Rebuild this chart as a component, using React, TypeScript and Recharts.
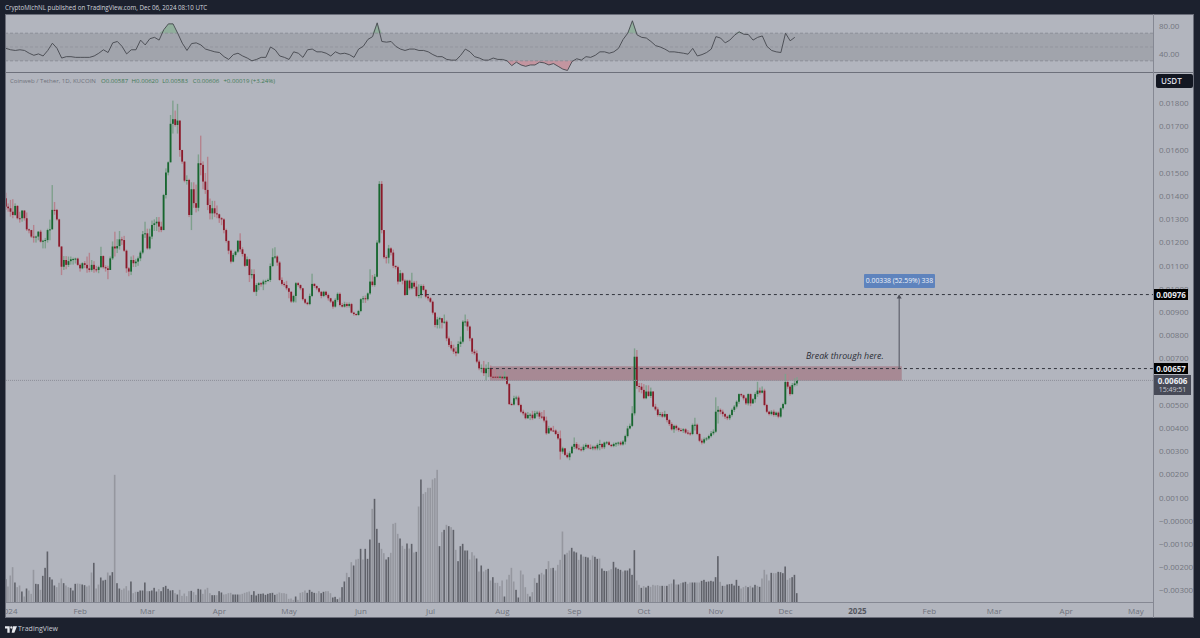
import { ComposedChart, Bar, Line, Area, XAxis, YAxis, ReferenceArea, ReferenceLine, ReferenceDot } from 'recharts';

// prices are in thousandths of USDT, one entry per daily candle starting Dec 31 2023
const closes = [
  13.55, 13.48, 13.33, 13.19, 13.58, 13.05, 13.05, 13.38, 13.05, 12.57,
  12.54, 12.26, 12.23, 12.26, 12.47, 12.04, 12.08, 12.11, 12.54, 12.57,
  13.41, 13.41, 13.0, 11.83, 10.96, 11.25, 11.04, 11.2, 11.28, 11.29,
  11.31, 11.04, 10.89, 11.11, 11.04, 10.89, 10.82, 11.04, 10.85, 10.82,
  10.94, 11.42, 10.94, 10.89, 10.82, 11.32, 11.83, 11.75, 11.85, 12.14,
  12.11, 11.65, 10.89, 10.75, 11.25, 11.11, 11.18, 11.32, 11.57, 12.36,
  12.4, 11.75, 12.26, 12.76, 12.83, 12.9, 12.69, 12.54, 14.05, 15.02,
  15.46, 17.12, 17.32, 17.07, 17.26, 15.99, 15.49, 14.67, 14.7, 13.19,
  14.3, 13.7, 13.5, 15.42, 15.35, 14.63, 14.27, 13.62, 13.26, 13.48,
  13.26, 13.22, 13.05, 13.0, 12.54, 12.07, 11.65, 11.18, 11.47, 11.61,
  12.08, 11.71, 11.51, 11.0, 11.28, 10.6, 10.64, 9.88, 10.17, 10.25,
  10.2, 10.32, 10.35, 10.39, 10.99, 11.37, 11.4, 11.14, 10.39, 10.22,
  10.17, 10.03, 9.88, 9.46, 9.7, 10.25, 10.17, 10.03, 9.56, 9.41,
  9.35, 9.7, 10.22, 10.13, 10.03, 9.88, 9.7, 9.88, 9.74, 9.6,
  9.46, 9.24, 9.53, 9.79, 9.31, 9.24, 9.35, 9.27, 9.35, 8.98,
  8.92, 8.88, 9.05, 9.56, 9.6, 9.56, 9.81, 10.32, 10.17, 10.53,
  12.0, 14.53, 12.54, 11.37, 11.35, 11.75, 11.57, 11.0, 10.94, 10.32,
  10.68, 10.36, 9.74, 10.36, 10.03, 10.27, 10.1, 9.7, 9.74, 10.13,
  9.96, 9.67, 9.6, 9.45, 8.98, 8.45, 8.69, 8.74, 8.55, 8.59,
  7.87, 7.59, 7.44, 7.3, 7.23, 7.63, 7.73, 8.59, 8.6, 8.38,
  7.87, 7.3, 7.23, 6.87, 6.58, 6.6, 6.37, 6.58, 6.6, 6.22,
  6.22, 6.22, 6.19, 6.22, 6.15, 6.22, 5.91, 5.04, 5.02, 5.29,
  5.32, 5.0, 4.71, 4.64, 4.43, 4.57, 4.58, 4.43, 4.64, 4.67,
  4.5, 4.5, 4.33, 3.78, 4.0, 3.9, 3.9, 3.75, 3.56, 2.99,
  3.13, 2.85, 2.75, 2.92, 3.2, 3.32, 3.13, 3.09, 3.06, 3.2,
  3.28, 3.16, 3.13, 3.2, 3.13, 3.28, 3.32, 3.18, 3.38, 3.39,
  3.28, 3.23, 3.32, 3.35, 3.38, 3.3, 3.42, 3.66, 3.99, 4.1,
  4.64, 7.08, 5.82, 5.79, 5.65, 5.29, 5.58, 5.39, 5.58, 4.93,
  4.81, 4.57, 4.61, 4.5, 4.61, 4.35, 4.18, 3.95, 4.1, 4.0,
  3.92, 3.9, 3.95, 3.81, 3.78, 3.75, 4.14, 4.15, 3.75, 3.46,
  3.38, 3.52, 3.56, 3.66, 3.78, 3.85, 4.71, 4.79, 4.71, 4.61,
  4.5, 4.43, 4.57, 4.79, 4.93, 5.14, 5.47, 5.42, 5.29, 5.07,
  5.47, 5.07, 5.25, 5.47, 5.62, 5.53, 5.62, 5.0, 4.71, 4.61,
  4.71, 4.57, 4.67, 4.5, 4.86, 5.04, 5.99, 5.79, 5.47, 5.86,
  5.93, 6.06,
];

const highs = [
  14.15, 13.69, 13.84, 13.87, 13.69, 13.62, 13.33, 13.4, 13.4, 13.3,
  12.6, 12.55, 12.76, 12.3, 12.5, 12.55, 12.12, 12.2, 12.6, 12.99,
  14.48, 13.75, 13.45, 13.03, 11.85, 11.42, 11.42, 11.4, 11.4, 11.35,
  11.35, 11.35, 11.1, 11.15, 11.2, 11.4, 11.56, 11.25, 11.2, 11.0,
  11.0, 11.82, 11.45, 11.02, 11.0, 11.4, 12.05, 12.47, 12.15, 12.5,
  12.25, 12.29, 11.7, 10.95, 11.4, 11.45, 11.3, 11.4, 11.65, 12.5,
  12.9, 12.6, 12.6, 12.95, 13.0, 13.1, 13.1, 12.9, 14.1, 15.2,
  15.5, 17.5, 18.12, 17.69, 17.98, 17.2, 16.0, 15.5, 14.9, 14.75,
  14.6, 14.6, 14.5, 15.8, 16.61, 15.5, 15.0, 15.7, 13.9, 13.8,
  13.8, 13.6, 13.25, 13.1, 13.05, 12.6, 12.1, 11.7, 11.55, 11.65,
  12.1, 12.4, 11.8, 11.55, 11.4, 11.3, 10.85, 10.85, 10.25, 10.3,
  10.3, 10.4, 10.4, 10.45, 11.1, 11.75, 11.8, 11.45, 11.2, 10.5,
  10.3, 10.35, 10.05, 9.9, 9.75, 10.3, 10.3, 10.2, 10.05, 9.6,
  9.45, 9.8, 10.66, 10.25, 10.15, 10.05, 9.9, 9.92, 9.92, 9.8,
  9.62, 9.5, 9.6, 9.85, 9.85, 9.4, 9.45, 9.42, 9.42, 9.4,
  9.02, 8.95, 9.1, 9.6, 9.7, 9.72, 9.85, 10.85, 10.6, 10.65,
  12.1, 14.65, 14.65, 12.45, 11.45, 11.9, 11.8, 11.7, 11.0, 11.0,
  10.82, 10.72, 10.42, 10.4, 10.4, 10.7, 10.35, 10.35, 10.2, 10.2,
  10.2, 10.0, 9.75, 9.65, 9.5, 9.0, 8.8, 8.8, 8.75, 8.9,
  8.65, 7.95, 7.75, 7.6, 7.5, 7.75, 7.95, 8.65, 8.9, 8.7,
  8.42, 7.9, 7.4, 7.35, 6.95, 6.75, 6.9, 6.75, 6.85, 6.7,
  6.6, 6.55, 6.3, 6.28, 6.3, 6.45, 6.25, 5.95, 5.1, 5.4,
  5.4, 5.4, 5.05, 4.8, 4.7, 4.7, 4.65, 4.75, 4.75, 4.75,
  4.75, 4.7, 4.78, 4.5, 4.1, 4.05, 4.1, 3.95, 3.85, 3.9,
  3.2, 3.15, 2.95, 3.0, 3.25, 3.6, 3.4, 3.3, 3.2, 3.3,
  3.35, 3.3, 3.3, 3.25, 3.25, 3.35, 3.5, 3.35, 3.42, 3.45,
  3.45, 3.32, 3.38, 3.4, 3.42, 3.45, 3.48, 3.72, 4.1, 4.2,
  4.95, 7.44, 7.37, 5.95, 5.95, 5.9, 5.85, 5.85, 5.75, 5.6,
  5.05, 4.9, 4.7, 4.7, 4.75, 4.62, 4.4, 4.25, 4.15, 4.15,
  4.05, 4.0, 4.0, 4.0, 3.92, 3.85, 4.2, 4.45, 4.2, 3.8,
  3.55, 3.6, 3.62, 3.72, 3.88, 3.95, 5.33, 4.95, 4.85, 4.8,
  4.65, 4.55, 4.62, 4.85, 5.0, 5.2, 5.5, 5.5, 5.45, 5.35,
  5.5, 5.5, 5.3, 5.55, 6.0, 5.75, 5.8, 5.7, 5.05, 4.75,
  4.78, 4.8, 4.72, 4.72, 4.9, 5.1, 6.34, 6.32, 5.85, 5.95,
  6.15, 6.2,
];

const lows = [
  13.41, 13.33, 13.12, 13.05, 13.15, 13.0, 12.86, 12.9, 12.95, 12.5,
  12.4, 12.2, 12.0, 12.0, 12.1, 12.0, 11.75, 11.75, 12.0, 12.1,
  12.6, 13.2, 12.95, 11.8, 10.6, 10.82, 10.85, 10.95, 11.05, 11.05,
  11.1, 11.0, 10.75, 10.85, 10.9, 10.7, 10.72, 10.75, 10.7, 10.72,
  10.68, 10.9, 10.88, 10.75, 10.42, 10.85, 11.25, 11.4, 11.55, 11.7,
  11.9, 11.6, 10.7, 10.55, 10.6, 10.95, 10.95, 11.0, 11.2, 11.5,
  12.2, 11.7, 11.7, 12.15, 12.5, 12.5, 12.45, 12.45, 12.6, 13.9,
  14.9, 15.5, 16.7, 17.0, 16.7, 15.7, 15.4, 14.6, 14.5, 13.1,
  12.54, 13.5, 13.3, 13.35, 14.9, 14.3, 14.1, 13.4, 13.0, 13.0,
  13.1, 13.05, 12.85, 12.75, 12.4, 12.0, 11.5, 11.1, 11.15, 11.4,
  11.55, 11.6, 11.4, 10.95, 11.0, 10.3, 10.45, 9.85, 9.7, 9.95,
  10.1, 9.95, 10.2, 10.3, 10.3, 10.95, 11.3, 11.0, 10.35, 10.15,
  10.1, 9.95, 9.6, 9.4, 9.4, 9.42, 10.1, 9.95, 9.5, 9.35,
  9.3, 9.3, 9.65, 10.05, 9.95, 9.82, 9.6, 9.65, 9.68, 9.5,
  9.4, 9.15, 9.2, 9.45, 9.25, 9.2, 9.2, 9.2, 9.2, 8.95,
  8.85, 8.85, 8.85, 9.0, 9.4, 9.4, 9.5, 9.75, 10.1, 10.1,
  10.5, 11.95, 12.4, 11.3, 11.1, 11.1, 11.45, 10.9, 10.85, 10.2,
  10.3, 10.2, 9.7, 9.95, 9.95, 9.98, 10.0, 9.65, 9.6, 9.6,
  9.9, 9.6, 9.5, 9.4, 8.9, 8.35, 8.3, 8.3, 8.3, 8.5,
  7.75, 7.5, 7.35, 7.2, 7.1, 7.2, 7.5, 7.65, 8.4, 8.2,
  7.75, 7.2, 7.15, 6.8, 6.5, 6.4, 6.25, 6.05, 6.2, 6.15,
  6.15, 6.18, 6.12, 6.15, 6.1, 6.12, 5.85, 5.0, 4.98, 4.98,
  5.2, 4.95, 4.65, 4.55, 4.38, 4.4, 4.35, 4.35, 4.4, 4.5,
  4.4, 4.4, 4.25, 3.72, 3.75, 3.85, 3.85, 3.7, 3.5, 2.65,
  2.9, 2.8, 2.7, 2.62, 2.9, 3.1, 3.08, 3.05, 3.0, 3.0,
  3.1, 3.1, 3.08, 3.05, 3.05, 3.05, 3.05, 3.1, 3.1, 3.3,
  3.25, 3.18, 3.18, 3.2, 3.25, 3.25, 3.25, 3.3, 3.6, 3.95,
  4.05, 4.55, 5.7, 5.55, 5.5, 5.25, 5.25, 5.35, 5.3, 4.9,
  4.75, 4.5, 4.5, 4.45, 4.45, 4.25, 4.1, 3.9, 3.8, 3.9,
  3.85, 3.85, 3.8, 3.75, 3.72, 3.68, 3.7, 3.9, 3.7, 3.4,
  3.3, 3.32, 3.45, 3.5, 3.6, 3.7, 3.8, 4.2, 4.6, 4.5,
  4.4, 4.35, 4.35, 4.5, 4.7, 4.85, 5.05, 5.35, 5.2, 5.0,
  4.98, 4.95, 5.05, 5.1, 5.35, 5.45, 5.5, 4.95, 4.65, 4.55,
  4.55, 4.5, 4.5, 4.43, 4.45, 4.8, 5.0, 5.7, 5.4, 5.45,
  5.8, 5.83,
];

const volumes = [
  70, 48, 81, 106, 60, 46, 51, 33, 18, 42, 36, 26, 98, 56, 55, 38, 80, 104, 153, 76,
  69, 51, 46, 59, 72, 58, 51, 46, 44, 36, 56, 57, 56, 54, 52, 48, 51, 90, 119, 42,
  54, 75, 66, 68, 90, 81, 91, 383, 58, 42, 38, 42, 49, 36, 63, 28, 32, 32, 36, 36,
  60, 34, 34, 36, 44, 33, 40, 34, 46, 50, 41, 36, 37, 28, 24, 38, 20, 27, 19, 34,
  35, 31, 23, 41, 39, 26, 39, 44, 28, 22, 22, 22, 34, 30, 24, 25, 28, 29, 24, 24,
  24, 24, 26, 29, 31, 33, 23, 34, 21, 26, 26, 27, 23, 26, 28, 29, 23, 26, 30, 28,
  28, 26, 11, 12, 8, 18, 8, 29, 31, 36, 29, 38, 32, 29, 28, 34, 28, 32, 34, 34,
  28, 15, 17, 10, 15, 46, 63, 89, 76, 121, 111, 129, 131, 161, 129, 161, 131, 189, 281, 311,
  221, 179, 161, 148, 129, 136, 149, 236, 239, 206, 192, 170, 161, 177, 162, 176, 150, 152, 288, 369,
  326, 331, 344, 344, 369, 373, 398, 169, 211, 218, 233, 229, 226, 218, 158, 124, 169, 176, 156, 156,
  129, 151, 141, 132, 93, 111, 93, 98, 101, 66, 76, 59, 59, 49, 66, 18, 69, 83, 104, 63,
  38, 15, 96, 84, 46, 26, 18, 31, 73, 59, 84, 89, 84, 100, 124, 103, 104, 96, 113, 128,
  213, 144, 149, 156, 164, 153, 150, 128, 144, 138, 137, 135, 128, 141, 137, 131, 132, 102, 95, 94,
  96, 100, 122, 105, 101, 98, 93, 96, 96, 102, 83, 157, 66, 53, 44, 49, 45, 50, 47, 53,
  51, 52, 50, 50, 50, 50, 55, 57, 69, 54, 54, 58, 60, 62, 56, 60, 60, 60, 60, 60,
  65, 68, 62, 63, 65, 63, 76, 139, 62, 50, 50, 54, 55, 56, 51, 68, 50, 42, 46, 50,
  46, 50, 45, 53, 50, 47, 72, 98, 84, 66, 89, 88, 88, 92, 91, 88, 108, 68, 73, 76,
  83, 28,
];

// d = darker volume bar, l = lighter one, same order as volumes
const volumeTones = [
  'dllldlldld', 'lllddldddd', 'ddllldlldd', 'dllddllldl', 'ldddlddldd', 'lllldllddd',
  'dlddddlddd', 'dddldlllll', 'dllddlllld', 'dlddlllldd', 'dllllldddd', 'dddddddlll',
  'llllldllll', 'ddddllddll', 'ldddlddldl', 'dlldldddld', 'ddllddllll', 'dlldldldld',
  'llllllldld', 'ldldlddddd', 'llldldlldl', 'dlllldllll', 'ddlllldlld', 'dlldlldlll',
  'ldlldddldl', 'ddllddlddd', 'llddddlddd', 'ddlldlddll', 'llldldlldl', 'dlddllddll',
  'ddddddddld', 'lddddddlll', 'dlddldllll', 'dllddddlld', 'dd',
].join('');

const rsiValues = [
  48, 46, 45, 46, 45, 41, 38, 40, 37, 45, 55.5, 48, 34, 36, 36, 35, 35, 35, 35, 37,
  41, 46, 42, 56, 58, 51, 40, 46, 46, 60, 53, 62, 64, 60, 75, 83.5, 83.5, 70, 55.5, 45,
  55, 56, 53, 47, 45, 43, 42, 36, 32, 39, 41, 37, 34, 30, 32, 35, 35, 50, 46, 37,
  35, 32, 43, 41, 35, 46, 47, 43, 43, 41, 37, 43, 40, 41, 39, 35, 47, 51, 61, 65,
  85, 58, 57, 58, 51, 47, 45, 47, 47, 45, 45, 43, 39, 36, 36, 32, 31, 31, 38, 47,
  43, 36, 34, 31, 31, 34, 32, 32, 30, 23, 28, 24, 22, 24, 24, 28, 27, 24, 26, 22,
  18, 16, 29, 33, 31, 36, 35, 38, 43, 43, 41, 43, 48, 61, 70, 88, 67.6, 64, 63, 58,
  52, 50, 47, 43, 43, 42, 41, 39.6, 48, 37, 39, 42, 47, 65, 63, 56, 60, 67, 72, 68.5,
  68, 60, 64, 66, 51, 45, 43, 42, 70, 59, 64,
];

const priceTicks = [18, 17, 16, 15, 14, 13, 12, 11, 10, 9, 8, 7, 5, 4, 3, 2, 1, 0, -1, -2, -3];
const timeTicks = [1, 32, 61, 92, 122, 153, 183, 214, 245, 275, 306, 336, 367, 398, 426, 457, 487];
const timeLabels = ['2024', 'Feb', 'Mar', 'Apr', 'May', 'Jun', 'Jul', 'Aug', 'Sep', 'Oct', 'Nov', 'Dec', '2025', 'Feb', 'Mar', 'Apr', 'May'];
const legendValues = ['O0.00587', 'H0.00620', 'L0.00583', 'C0.00606', '+0.00019 (+3.24%)'];

const rows = closes.map((close, i) => {
  const open = i === 0 ? 13.91 : closes[i - 1];
  return {
    i,
    open,
    close,
    wick: [Math.min(lows[i], open, close), Math.max(highs[i], open, close)],
    volume: volumes[i],
    dark: volumeTones[i] === 'd',
  };
});

const rsiRows = rsiValues.map((rsi, k) => ({
  i: k * 2,
  rsi,
  over: [70, Math.max(rsi, 70)],
  under: [Math.min(rsi, 30), 30],
}));

const xDomain: [number, number] = [-0.43, 494.4];

function Candle(props: any) {
  const { x, y, width, height, payload } = props;
  const [low, high] = payload.wick;
  const pxPerUnit = height / (high - low || 1);
  const top = y + (high - Math.max(payload.open, payload.close)) * pxPerUnit;
  const bottom = y + (high - Math.min(payload.open, payload.close)) * pxPerUnit;
  const up = payload.close > payload.open;
  const mid = x + width / 2;
  return (
    <g>
      <rect x={mid - 0.7} y={y} width={1.4} height={height} fill={up ? '#7fa08d' : '#b5838e'} />
      <rect x={mid - 0.9} y={top} width={1.8} height={Math.max(bottom - top, 1)} fill={up ? '#17662f' : '#8a1a2b'} />
    </g>
  );
}

function VolumeBar(props: any) {
  const { x, y, width, height, payload } = props;
  return <rect x={x} y={y} width={width} height={height} fill={payload.dark ? '#5f6169' : '#95979f'} />;
}

function TimeTick(props: any) {
  const { x, y, payload, index } = props;
  const bold = timeLabels[index] === '2025';
  return (
    <text x={x} y={y + 3} textAnchor="middle" fontSize={8} fontFamily="Open Sans" fontWeight={bold ? 700 : 400} fill={bold ? '#54565e' : '#6f727c'}>
      {timeLabels[index] ?? payload.value}
    </text>
  );
}

function ArrowHead(props: any) {
  const { cx, cy } = props;
  return <path d={`M${cx - 2.5} ${cy + 4}L${cx} ${cy}L${cx + 2.5} ${cy + 4}Z`} fill="#4e505a" />;
}

const box = (left: number, top: number, width: number, height: number, extra: any = {}) => ({
  position: 'absolute' as const,
  left,
  top,
  width,
  height,
  ...extra,
});

function PriceTag({ top, text }: { top: number; text: string }) {
  return (
    <div style={box(1154, top, 34, 11, { background: '#000', color: '#e6e8ee', fontSize: 8, fontWeight: 700, lineHeight: '11px', textAlign: 'center' })}>
      {text}
    </div>
  );
}

export default function App() {
  return (
    <div style={box(0, 0, 1200, 638, { background: '#1c212e', overflow: 'hidden', fontFamily: 'Open Sans' })}>
      <div style={box(5, 2, 400, 11, { color: '#d1d4dc', fontSize: 6.2, lineHeight: '11px', whiteSpace: 'nowrap' })}>
        CryptoMichNL published on TradingView.com, Dec 06, 2024 08:10 UTC
      </div>
      <div style={box(5, 14, 1189, 604, { background: '#b2b5be' })} />

      <div style={box(5, 14, 1189, 58)}>
        <ComposedChart width={1189} height={58} data={rsiRows} margin={{ top: 0, right: 0, bottom: 0, left: 0 }}>
          <XAxis dataKey="i" type="number" domain={xDomain} hide />
          <YAxis
            orientation="right"
            width={41}
            domain={[13.8, 97.8]}
            ticks={[80, 40]}
            tickFormatter={(v: number) => v.toFixed(2)}
            tick={{ fontSize: 8, fill: '#72757f', fontFamily: 'Open Sans' }}
            tickLine={false}
            tickSize={0}
            tickMargin={6}
            axisLine={false}
            interval={0}
          />
          <ReferenceArea y1={30} y2={70} fill="#a1a4ac" fillOpacity={1} stroke="none" />
          <ReferenceLine y={70} stroke="#8b8e97" strokeDasharray="3 2" />
          <ReferenceLine y={50} stroke="#93959e" strokeDasharray="3 2" />
          <ReferenceLine y={30} stroke="#8b8e97" strokeDasharray="3 2" />
          <Area dataKey="over" stroke="none" fill="#5fa86c" fillOpacity={0.4} isAnimationActive={false} />
          <Area dataKey="under" stroke="none" fill="#e0606e" fillOpacity={0.38} isAnimationActive={false} />
          <Line dataKey="rsi" stroke="#45474e" strokeWidth={0.9} dot={false} isAnimationActive={false} />
        </ComposedChart>
      </div>

      <div style={box(5, 73, 1189, 545)}>
        <ComposedChart width={1189} height={545} data={rows} margin={{ top: 0, right: 0, bottom: 0, left: 0 }}>
          <XAxis
            dataKey="i"
            type="number"
            domain={xDomain}
            ticks={timeTicks}
            interval={0}
            height={15.5}
            tick={<TimeTick />}
            tickLine={false}
            axisLine={{ stroke: '#858893' }}
          />
          <XAxis xAxisId="vol" dataKey="i" type="number" domain={xDomain} hide />
          <YAxis
            orientation="right"
            width={41}
            domain={[-3.513, 19.31]}
            ticks={priceTicks}
            interval={0}
            tickFormatter={(v: number) => (v <= 0 ? '\u2212' : '') + (Math.abs(v) / 1000).toFixed(5)}
            tick={{ fontSize: 8, fill: '#72757f', fontFamily: 'Open Sans' }}
            tickLine={false}
            tickSize={0}
            tickMargin={6}
            axisLine={false}
          />
          <YAxis yAxisId="vol" hide domain={[0, 1588.5]} />
          <ReferenceArea x1={208.6} x2={386.1} y1={6.05} y2={6.67} fill="#8f2434" fillOpacity={0.3} stroke="none" />
          <ReferenceLine y={6.06} stroke="#8d909a" strokeDasharray="1 1" />
          <ReferenceLine segment={[{ x: 178.4, y: 9.76 }, { x: 494.4, y: 9.76 }]} stroke="#33353e" strokeDasharray="3 3" />
          <ReferenceLine segment={[{ x: 208.6, y: 6.57 }, { x: 494.4, y: 6.57 }]} stroke="#33353e" strokeDasharray="3 3" />
          <ReferenceLine segment={[{ x: 385, y: 6.57 }, { x: 385, y: 9.72 }]} stroke="#5f616c" strokeWidth={1.2} />
          <ReferenceDot x={385} y={9.76} r={3} shape={<ArrowHead />} />
          <Bar xAxisId="vol" yAxisId="vol" dataKey="volume" barSize={1.6} shape={<VolumeBar />} isAnimationActive={false} />
          <Bar dataKey="wick" barSize={2} shape={<Candle />} isAnimationActive={false} />
        </ComposedChart>
      </div>

      {/* panel frame and separators */}
      <div style={box(5, 14, 1189, 604, { boxSizing: 'border-box', border: '1px solid #6a6d79', pointerEvents: 'none' })} />
      <div style={box(5, 72, 1189, 1, { background: '#6d707b' })} />
      <div style={box(1153, 14, 1, 604, { background: '#858893' })} />

      {/* legend line */}
      <div style={box(10, 76, 90, 9, { color: '#6f727c', fontSize: 6.1, lineHeight: '9px', whiteSpace: 'nowrap' })}>Coinweb / Tether, 1D, KUCOIN</div>
      {legendValues.map((text, n) => (
        <div key={text} style={box(101 + n * 30.6, 76, 80, 9, { color: '#3f7a55', fontSize: 6.1, lineHeight: '9px', whiteSpace: 'nowrap' })}>
          {text}
        </div>
      ))}

      {/* price scale badges */}
      <div style={box(1156, 74, 37, 14, { background: '#131722', borderRadius: 2, color: '#d9dbe2', fontSize: 8, fontWeight: 600, lineHeight: '14px', textIndent: 5 })}>USDT</div>
      <PriceTag top={289} text="0.00976" />
      <PriceTag top={363} text="0.00657" />
      <div style={box(1154, 375, 37, 20, { background: '#474a57', color: '#eceef3', fontSize: 8, lineHeight: '9px', textAlign: 'center', paddingTop: 1, boxSizing: 'border-box' })}>
        <div style={{ fontWeight: 700, height: 9 }}>0.00606</div>
        <div style={{ color: '#c8cad2', fontSize: 7, height: 9 }}>15:49:51</div>
      </div>

      {/* drawings */}
      <div style={box(864, 274, 71, 14, { background: '#5e83bd', borderRadius: 1, color: '#eef2f8', fontSize: 6.8, lineHeight: '14px', textAlign: 'center', whiteSpace: 'nowrap' })}>
        0.00338 (52.59%) 338
      </div>
      <div style={box(806, 350, 90, 12, { color: '#2b2d36', fontSize: 8.8, fontStyle: 'italic', lineHeight: '12px', whiteSpace: 'nowrap' })}>Break through here.</div>

      {/* footer logo */}
      <svg style={box(5, 626, 12, 7)} viewBox="0 0 36 20">
        <path d="M0 0H14V20H7V7H0Z M24 0H36L28 20H20Z" fill="#e8eaef" />
        <circle cx="19" cy="4" r="3.5" fill="#e8eaef" />
      </svg>
      <div style={box(18, 624, 50, 10, { color: '#c8cad2', fontSize: 7, lineHeight: '10px', whiteSpace: 'nowrap' })}>TradingView</div>
    </div>
  );
}
